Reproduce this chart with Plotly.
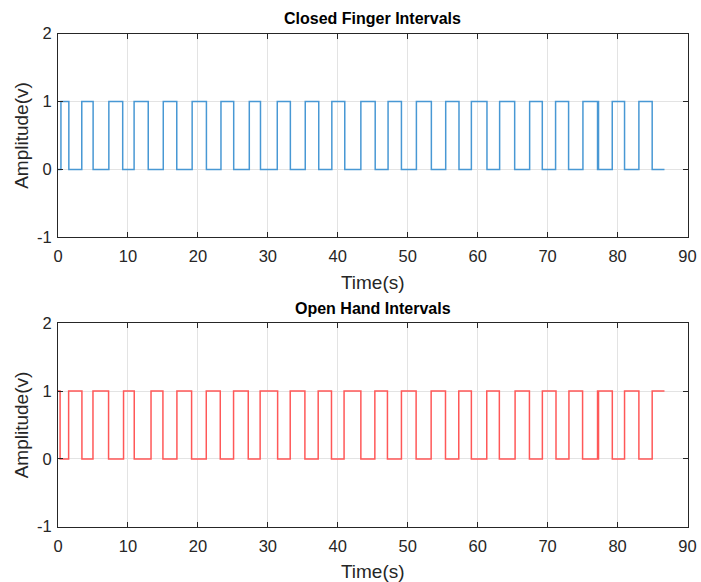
import plotly.graph_objects as go

# Switching instants (s) and logic levels (v) of the two interval signals
closed_t = [0, 0.42, 1.55, 3.40, 5.02, 7.27, 9.25, 10.88, 12.90, 15.05, 16.98,
            19.18, 21.22, 23.30, 25.12, 27.35, 28.95, 31.35, 33.22, 35.35, 37.28,
            39.15, 41.00, 43.30, 45.35, 47.19, 49.10, 51.24, 53.38, 55.43, 57.33,
            59.10, 61.33, 63.14, 65.29, 67.43, 69.24, 71.14, 73.00, 75.05, 77.14,
            77.21, 77.28, 79.24, 81.00, 83.05, 84.95, 86.71]
closed_v = [0, 1, 0, 1, 0, 1, 0, 1, 0, 1, 0,
            1, 0, 1, 0, 1, 0, 1, 0, 1, 0,
            1, 0, 1, 0, 1, 0, 1, 0, 1, 0,
            1, 0, 1, 0, 1, 0, 1, 0, 1, 0,
            1, 0, 1, 0, 1, 0, 0]

open_t = [0, 0.30, 1.52, 3.42, 5.00, 7.23, 9.37, 10.90, 13.30, 15.00, 17.00,
          19.10, 21.20, 23.20, 25.10, 27.20, 28.90, 31.40, 33.20, 35.30, 37.20,
          39.10, 40.90, 43.30, 45.30, 47.10, 49.10, 51.20, 53.35, 55.40, 57.30,
          59.10, 61.30, 63.10, 65.35, 67.40, 69.25, 71.20, 73.05, 75.00, 77.14,
          77.21, 77.28, 79.25, 81.00, 83.05, 84.95, 86.71]
open_v = [1, 0, 1, 0, 1, 0, 1, 0, 1, 0, 1,
          0, 1, 0, 1, 0, 1, 0, 1, 0, 1,
          0, 1, 0, 1, 0, 1, 0, 1, 0, 1,
          0, 1, 0, 1, 0, 1, 0, 1, 0, 1,
          0, 1, 0, 1, 0, 1, 1]

x_ticks = [0, 10, 20, 30, 40, 50, 60, 70, 80, 90]
x_labels = ["0", "10", "20", "30", "40", "50", "60", "70", "80", "90"]
y_ticks = [-1, 0, 1, 2]
y_labels = ["-1", "0", "1", "2"]

W, H = 701, 582
FONT = "Liberation Sans, Arial, sans-serif"
AX_COLOR = "#262626"
GRID = "#e3e3e3"

# pixel boxes of the two panels (left, right, top, bottom)
panels = [(58, 687.5, 33.7, 237.3), (58, 687.5, 323.3, 526.7)]

fig = go.Figure()
fig.add_trace(go.Scatter(x=closed_t, y=closed_v, mode="lines", line_shape="hv",
                         line=dict(color="rgb(72,152,212)", width=1.5),
                         xaxis="x", yaxis="y", showlegend=False))
fig.add_trace(go.Scatter(x=open_t, y=open_v, mode="lines", line_shape="hv",
                         line=dict(color="rgb(255,88,88)", width=1.5),
                         xaxis="x2", yaxis="y2", showlegend=False))

def xaxis_cfg(i):
    l, r, t, b = panels[i]
    return dict(domain=[l / W, r / W], range=[0, 90],
                tickmode="array", tickvals=x_ticks, ticktext=x_labels,
                anchor="y" if i == 0 else "y2", automargin=False,
                showline=True, linecolor=AX_COLOR, linewidth=1, mirror="ticks",
                ticks="inside", ticklen=5, tickcolor=AX_COLOR,
                ticklabelstandoff=4,
                showgrid=True, gridcolor=GRID, gridwidth=1, zeroline=False,
                tickfont=dict(family=FONT, size=16.5, color=AX_COLOR),
                title=dict(text="Time(s)", standoff=11,
                           font=dict(family=FONT, size=19, color=AX_COLOR)))

def yaxis_cfg(i):
    l, r, t, b = panels[i]
    return dict(domain=[1 - b / H, 1 - t / H], range=[-1, 2],
                tickmode="array", tickvals=y_ticks, ticktext=y_labels,
                anchor="x" if i == 0 else "x2", automargin=False,
                showline=True, linecolor=AX_COLOR, linewidth=1, mirror="ticks",
                ticks="inside", ticklen=5, tickcolor=AX_COLOR,
                ticklabelstandoff=2,
                showgrid=True, gridcolor=GRID, gridwidth=1, zeroline=False,
                tickfont=dict(family=FONT, size=16.5, color=AX_COLOR),
                title=dict(text="Amplitude(v)", standoff=3,
                           font=dict(family=FONT, size=19, color=AX_COLOR)))

titles = ["Closed Finger Intervals", "Open Hand Intervals"]
annotations = []
for i, txt in enumerate(titles):
    l, r, t, b = panels[i]
    annotations.append(dict(text="<b>" + txt + "</b>", x=(l + r) / 2 / W,
                            y=1 - (t - 15) / H, xref="paper", yref="paper",
                            xanchor="center", yanchor="middle", showarrow=False,
                            font=dict(family=FONT, size=16, color="#000000")))

fig.update_layout(
    width=W, height=H, margin=dict(l=0, r=0, t=0, b=0),
    paper_bgcolor="white", plot_bgcolor="white",
    xaxis=xaxis_cfg(0), yaxis=yaxis_cfg(0),
    xaxis2=xaxis_cfg(1), yaxis2=yaxis_cfg(1),
    annotations=annotations,
)

fig.write_html("out.html")
